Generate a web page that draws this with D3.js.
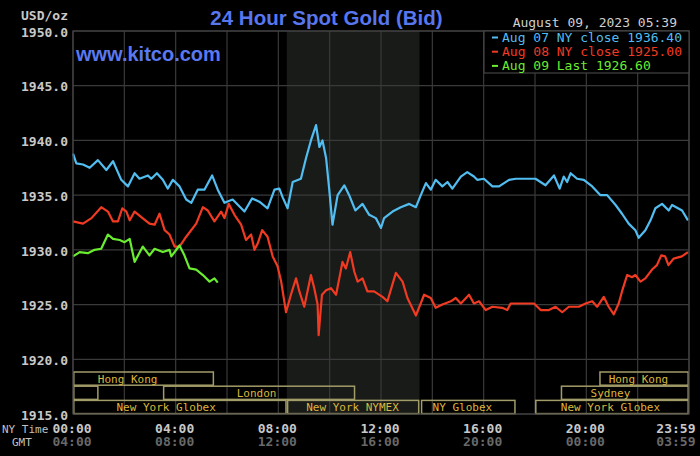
<!DOCTYPE html>
<html>
<head>
<meta charset="utf-8">
<script src="https://cdn.jsdelivr.net/npm/d3@7"></script>
<style>
  body { margin: 0; background: #000; }
  svg { display: block; }
</style>
</head>
<body>
<div id="chart"></div>
<script>
// Chart size
var width = 700;
var height = 456;

// Price series, [hour of NY day, price]
var aug07 = [
  [0, 1938.8], [0.13, 1937.9], [0.39, 1937.8], [0.65, 1937.5], [0.97, 1938.2], [1.30, 1937.3],
  [1.56, 1938.1], [1.88, 1936.4], [2.14, 1935.8], [2.40, 1937.0], [2.59, 1936.5], [2.92, 1936.8],
  [3.05, 1936.5], [3.27, 1937.0], [3.50, 1936.4], [3.69, 1935.6], [3.89, 1936.4], [4.15, 1935.8],
  [4.41, 1934.6], [4.61, 1934.3], [4.86, 1935.5], [5.12, 1935.5], [5.42, 1936.8], [5.64, 1935.5],
  [5.90, 1934.3], [6.22, 1934.6], [6.68, 1933.5], [6.98, 1934.7], [7.26, 1934.4], [7.58, 1933.8],
  [7.85, 1935.5], [8.04, 1935.6], [8.17, 1934.8], [8.36, 1933.8], [8.56, 1936.2], [8.88, 1936.5],
  [9.08, 1938.4], [9.27, 1940.0], [9.47, 1941.4], [9.60, 1939.4], [9.72, 1940.0], [9.86, 1938.4],
  [9.98, 1935.6], [10.11, 1932.3], [10.31, 1935.0], [10.57, 1935.9], [10.76, 1935.0], [11.00, 1933.6],
  [11.28, 1934.2], [11.54, 1933.2], [11.80, 1932.9], [12.00, 1932.0], [12.12, 1932.9], [12.45, 1933.5],
  [12.77, 1933.9], [13.10, 1934.2], [13.36, 1933.9], [13.55, 1935.0], [13.75, 1936.1], [13.94, 1935.5],
  [14.13, 1936.4], [14.39, 1935.8], [14.59, 1936.2], [14.78, 1935.6], [15.11, 1936.7], [15.36, 1937.1],
  [15.62, 1936.7], [15.75, 1936.4], [16.01, 1936.5], [16.34, 1935.8], [16.60, 1935.8], [16.99, 1936.4],
  [17.25, 1936.5], [18.02, 1936.5], [18.41, 1935.9], [18.74, 1936.8], [18.96, 1935.6], [19.12, 1936.7],
  [19.25, 1936.2], [19.39, 1937.0], [19.64, 1936.5], [19.90, 1936.4], [20.23, 1935.8], [20.55, 1935.0],
  [20.81, 1935.0], [21.14, 1934.1], [21.39, 1933.3], [21.65, 1932.4], [21.91, 1931.8], [22.04, 1931.1],
  [22.30, 1931.8], [22.50, 1932.7], [22.69, 1933.8], [22.95, 1934.2], [23.21, 1933.6], [23.34, 1934.1],
  [23.73, 1933.6], [23.96, 1932.7]
];

var aug08 = [
  [0, 1932.6], [0.39, 1932.4], [0.72, 1932.9], [1.10, 1933.9], [1.36, 1933.5], [1.56, 1932.6],
  [1.75, 1932.6], [1.92, 1933.8], [2.08, 1933.5], [2.21, 1932.7], [2.40, 1933.5], [2.66, 1933.0],
  [2.98, 1932.4], [3.18, 1932.3], [3.37, 1933.3], [3.57, 1931.8], [3.76, 1931.4], [3.96, 1930.3],
  [4.15, 1930.3], [4.41, 1931.2], [4.80, 1932.4], [5.06, 1933.9], [5.25, 1933.6], [5.51, 1932.6],
  [5.77, 1933.5], [5.90, 1932.9], [6.07, 1934.2], [6.29, 1933.2], [6.55, 1932.3], [6.74, 1930.9],
  [6.94, 1931.4], [7.07, 1930.0], [7.20, 1930.6], [7.37, 1931.8], [7.58, 1931.2], [7.78, 1929.4],
  [7.97, 1928.5], [8.11, 1927.1], [8.30, 1924.3], [8.49, 1925.9], [8.69, 1927.4], [8.82, 1926.2],
  [9.01, 1924.8], [9.27, 1927.7], [9.40, 1926.5], [9.53, 1925.0], [9.57, 1922.2], [9.70, 1925.9],
  [9.86, 1926.3], [10.05, 1926.5], [10.25, 1925.9], [10.50, 1928.9], [10.63, 1928.3], [10.80, 1929.8],
  [10.96, 1928.0], [11.09, 1927.1], [11.28, 1927.4], [11.47, 1926.2], [11.73, 1926.2], [12.06, 1925.7],
  [12.25, 1925.3], [12.58, 1927.9], [12.84, 1927.1], [13.03, 1925.6], [13.36, 1924.0], [13.68, 1925.9],
  [13.94, 1925.6], [14.13, 1924.7], [14.39, 1925.0], [14.72, 1925.3], [14.91, 1925.6], [15.11, 1925.1],
  [15.43, 1925.9], [15.62, 1925.1], [15.82, 1925.3], [16.08, 1924.5], [16.34, 1924.8], [16.72, 1924.7],
  [16.92, 1924.5], [17.05, 1925.1], [17.37, 1925.1], [17.96, 1925.1], [18.22, 1924.5], [18.54, 1924.5],
  [18.80, 1924.8], [19.06, 1924.3], [19.32, 1924.8], [19.71, 1924.8], [19.97, 1925.1], [20.23, 1925.3],
  [20.42, 1924.8], [20.68, 1925.7], [20.87, 1924.8], [21.07, 1924.1], [21.26, 1925.1], [21.39, 1926.2],
  [21.59, 1927.7], [21.78, 1927.5], [21.91, 1927.7], [22.11, 1927.1], [22.30, 1927.4], [22.56, 1928.2],
  [22.75, 1928.6], [22.92, 1929.5], [23.07, 1929.4], [23.20, 1928.6], [23.40, 1929.2], [23.72, 1929.4],
  [23.96, 1929.8]
];

var aug09 = [
  [0, 1929.4], [0.26, 1929.8], [0.58, 1929.7], [0.84, 1930.0], [1.10, 1930.1], [1.36, 1931.4],
  [1.56, 1931.0], [1.82, 1930.9], [2.01, 1930.7], [2.21, 1931.0], [2.40, 1928.9], [2.72, 1930.3],
  [2.98, 1929.5], [3.18, 1930.1], [3.50, 1929.8], [3.76, 1930.0], [3.83, 1929.4], [4.15, 1930.4],
  [4.34, 1929.5], [4.54, 1928.3], [4.80, 1928.2], [5.06, 1927.7], [5.32, 1927.1], [5.51, 1927.4],
  [5.64, 1927.0]
];

var seriesColors = ["#52bdf0", "#f03a22", "#6aec30"];
var legendLabels = ["Aug 07 NY close 1936.40", "Aug 08 NY close 1925.00", "Aug 09 Last 1926.60"];

// Axis ticks
var priceTicks = [1915, 1920, 1925, 1930, 1935, 1940, 1945, 1950];
var tickHours = [0, 4, 8, 12, 16, 20, 24];
var nyLabels = ["00:00", "04:00", "08:00", "12:00", "16:00", "20:00", "23:59"];
var gmtLabels = ["04:00", "08:00", "12:00", "16:00", "20:00", "00:00", "03:59"];

// Market sessions: name, row, start hour, end hour, label hour
var marketNames = ["Hong Kong", "", "London", "New York Globex", "New York NYMEX", "NY Globex",
  "New York Globex", "Sydney", "Hong Kong"];
var marketRows = [0, 1, 1, 2, 2, 2, 2, 1, 0];
var marketStart = [0, 0, 3.5, 0, 8.33, 13.55, 18, 19, 20.5];
var marketEnd = [5.5, 1, 11, 8.33, 13.5, 17.25, 24, 24, 24];
var marketLabelAt = [2.13, 0, 7.15, 3.63, 10.89, 15.17, 20.94, 20.94, 22.03];

// NYMEX pit hours (shaded)
var nymexHours = [8.33, 13.5];

var plotLeft = 73, plotRight = 689, plotTop = 31, plotBottom = 414;

var x = d3.scaleLinear().domain([0, 24]).range([plotLeft, plotRight]);
var y = d3.scaleLinear().domain([1915, 1950]).range([plotBottom, plotTop]);

var svg = d3.select("#chart")
  .append("svg")
  .attr("width", width)
  .attr("height", height)
  .style("background", "#000");

var mono = "'DejaVu Sans Mono', monospace";
var sans = "'Liberation Sans', Arial, sans-serif";

// Shaded NYMEX block
svg.append("rect")
  .attr("x", x(nymexHours[0]))
  .attr("y", plotTop)
  .attr("width", x(nymexHours[1]) - x(nymexHours[0]))
  .attr("height", plotBottom - plotTop)
  .attr("fill", "#181b18");

// Grid
var grid = svg.append("g").attr("stroke", "#3a3a3a").attr("stroke-width", 1.2);
grid.selectAll(".vx")
  .data(d3.range(0, 25, 2))
  .enter().append("line")
  .attr("x1", function(d) { return x(d); })
  .attr("x2", function(d) { return x(d); })
  .attr("y1", plotTop)
  .attr("y2", plotBottom);
grid.selectAll(".hy")
  .data(priceTicks)
  .enter().append("line")
  .attr("x1", plotLeft)
  .attr("x2", plotRight)
  .attr("y1", function(d) { return y(d); })
  .attr("y2", function(d) { return y(d); });

// Market session boxes
var rowTop = 372, rowStep = 14.2, rowH = 13.2;
var markets = svg.append("g");
markets.selectAll("rect")
  .data(marketNames)
  .enter().append("rect")
  .attr("x", function(d, i) { return x(marketStart[i]) + 0.8; })
  .attr("y", function(d, i) { return rowTop + marketRows[i] * rowStep; })
  .attr("width", function(d, i) { return x(marketEnd[i]) - x(marketStart[i]) - 1.6; })
  .attr("height", rowH)
  .attr("fill", "none")
  .attr("stroke", "#a29c68")
  .attr("stroke-width", 1.5);
markets.selectAll("text")
  .data(marketNames)
  .enter().append("text")
  .attr("x", function(d, i) { return x(marketLabelAt[i]); })
  .attr("y", function(d, i) { return rowTop + marketRows[i] * rowStep + rowH / 2 + 4; })
  .attr("text-anchor", "middle")
  .attr("font-family", mono)
  .attr("font-size", "11px")
  .attr("fill", "#dcb63e")
  .text(function(d) { return d; });

// Price lines
var line = d3.line()
  .x(function(d) { return x(d[0]); })
  .y(function(d) { return y(d[1]); });

svg.selectAll(".series")
  .data([aug07, aug08, aug09])
  .enter().append("path")
  .attr("d", line)
  .attr("fill", "none")
  .attr("stroke", function(d, i) { return seriesColors[i]; })
  .attr("stroke-width", 2.2)
  .attr("stroke-linejoin", "round");

// Plot border
svg.append("rect")
  .attr("x", plotLeft)
  .attr("y", plotTop)
  .attr("width", plotRight - plotLeft)
  .attr("height", plotBottom - plotTop)
  .attr("fill", "none")
  .attr("stroke", "#444")
  .attr("stroke-width", 1.2);

// Legend
var legend = svg.append("g");
legend.append("rect")
  .attr("x", 484)
  .attr("y", plotTop)
  .attr("width", plotRight - 484)
  .attr("height", 42)
  .attr("fill", "#000")
  .attr("stroke", "#444")
  .attr("stroke-width", 1.2);
legend.selectAll("line")
  .data(legendLabels)
  .enter().append("line")
  .attr("x1", 492)
  .attr("x2", 498)
  .attr("y1", function(d, i) { return 37.5 + i * 14.2; })
  .attr("y2", function(d, i) { return 37.5 + i * 14.2; })
  .attr("stroke", function(d, i) { return seriesColors[i]; })
  .attr("stroke-width", 2);
legend.selectAll("text")
  .data(legendLabels)
  .enter().append("text")
  .attr("x", 502)
  .attr("y", function(d, i) { return 42 + i * 14.2; })
  .attr("font-family", mono)
  .attr("font-size", "13px")
  .attr("fill", function(d, i) { return seriesColors[i]; })
  .text(function(d) { return d; });

// Y axis
var yAxis = d3.axisLeft(y)
  .tickValues(priceTicks)
  .tickFormat(d3.format(".1f"))
  .tickSize(0)
  .tickPadding(5);
var yg = svg.append("g")
  .attr("transform", "translate(" + plotLeft + ",0)")
  .call(yAxis);
yg.select(".domain").remove();
yg.selectAll("text")
  .attr("dy", "0.4em")
  .attr("font-family", mono)
  .attr("font-size", "13px")
  .attr("font-weight", "bold")
  .attr("fill", "#c8c8c8");

svg.append("text")
  .attr("x", 68)
  .attr("y", 19.5)
  .attr("text-anchor", "end")
  .attr("font-family", mono)
  .attr("font-size", "13px")
  .attr("font-weight", "bold")
  .attr("fill", "#c8c8c8")
  .text("USD/oz");

// X axes (NY time and GMT)
function timeAxis(labels, padding, color) {
  var axis = d3.axisBottom(x)
    .tickValues(tickHours)
    .tickFormat(function(d, i) { return labels[i]; })
    .tickSize(0)
    .tickPadding(padding);
  var g = svg.append("g")
    .attr("transform", "translate(-1.5," + plotBottom + ")")
    .call(axis);
  g.select(".domain").remove();
  g.selectAll("text")
    .attr("font-family", mono)
    .attr("font-size", "13px")
    .attr("font-weight", "bold")
    .attr("fill", color);
  g.selectAll(".tick").filter(function(d) { return d === 24; })
    .select("text")
    .attr("text-anchor", "end")
    .attr("dx", "7.5");
}
timeAxis(nyLabels, 9.5, "#c8c8c8");
timeAxis(gmtLabels, 23, "#686868");

svg.append("text")
  .attr("x", 2)
  .attr("y", 432.5)
  .attr("font-family", mono)
  .attr("font-size", "11px")
  .attr("fill", "#c0c0c0")
  .text("NY Time");
svg.append("text")
  .attr("x", 12)
  .attr("y", 445.5)
  .attr("font-family", mono)
  .attr("font-size", "11px")
  .attr("fill", "#c0c0c0")
  .text("GMT");

// Titles
svg.append("text")
  .attr("x", 326.5)
  .attr("y", 24.5)
  .attr("text-anchor", "middle")
  .attr("font-family", sans)
  .attr("font-size", "20.5px")
  .attr("font-weight", "bold")
  .attr("fill", "#5876ee")
  .text("24 Hour Spot Gold (Bid)");

svg.append("text")
  .attr("x", 76)
  .attr("y", 61)
  .attr("font-family", sans)
  .attr("font-size", "20px")
  .attr("font-weight", "bold")
  .attr("fill", "#5a78f0")
  .text("www.kitco.com");

svg.append("text")
  .attr("x", 677)
  .attr("y", 26.7)
  .attr("text-anchor", "end")
  .attr("font-family", mono)
  .attr("font-size", "13px")
  .attr("fill", "#d0d0d0")
  .text("August 09, 2023 05:39");
</script>
</body>
</html>
